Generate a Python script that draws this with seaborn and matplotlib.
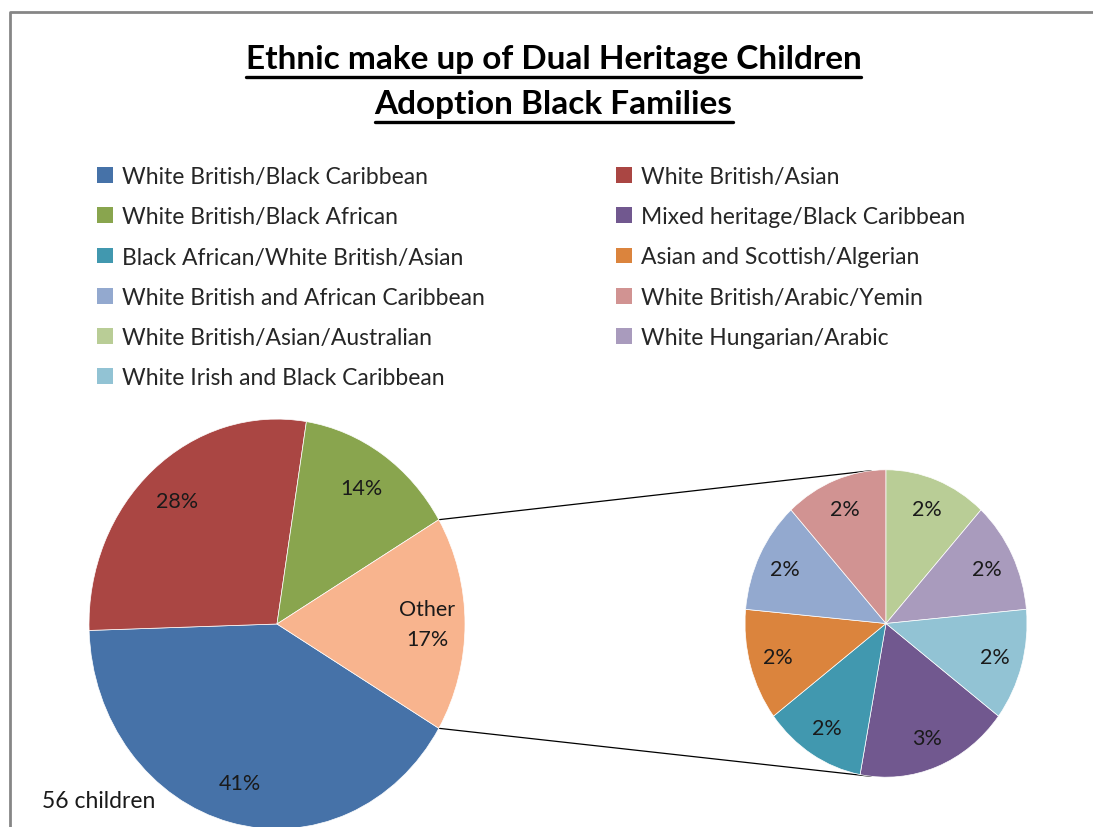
import matplotlib
matplotlib.use("Agg")
import matplotlib.pyplot as plt
import numpy as np
import seaborn as sns
from matplotlib.lines import Line2D
from matplotlib.patches import Patch

# chart data
title_lines = ["Ethnic make up of Dual Heritage Children", "Adoption Black Families"]
main_labels = ["White British/Black Caribbean", "White British/Asian", "White British/Black African"]
main_pct = [41, 28, 14]
main_colors = ["#4672A8", "#AA4643", "#89A54E"]
other_name = "Other"
other_color = "#F8B48E"
other_labels = [
    "Mixed heritage/Black Caribbean",
    "Black African/White British/Asian",
    "Asian and Scottish/Algerian",
    "White British and African Caribbean",
    "White British/Arabic/Yemin",
    "White British/Asian/Australian",
    "White Hungarian/Arabic",
    "White Irish and Black Caribbean",
]
other_pct = [3, 2, 2, 2, 2, 2, 2, 2]
other_colors = ["#71588F", "#4198AF", "#DB843D", "#93A9CF", "#D19392", "#B9CD96", "#A99BBD", "#92C3D4"]
note = "56 children"

sns.set_theme(style="white")
plt.rcParams["font.family"] = ["Lato", "DejaVu Sans"]

W, H = 1093, 828
stretch = 1.09  # the source picture is squashed a little horizontally
fig = plt.figure(figsize=(W / 100, H / 100), dpi=100)
ax = fig.add_axes([0, 0, 1, 1])


def to_data(px, py):
    return px, (H - py) / stretch


other_total = sum(other_pct)
wedge_style = dict(linewidth=0.5, edgecolor="white")
text_style = dict(fontsize=15.5, color="#1a1a1a")

main_center = to_data(277, 625)
main_r = 188
wedges_main, _, pct_main = ax.pie(
    main_pct + [other_total],
    colors=main_colors + [other_color],
    startangle=-30.6,
    counterclock=False,
    center=main_center,
    radius=main_r,
    autopct=lambda p: f"{p:.0f}%",
    pctdistance=0.8,
    wedgeprops=wedge_style,
    textprops=text_style,
)
pct_main[-1].set_text(other_name + "\n" + pct_main[-1].get_text())
pct_main[-1].set_linespacing(1.6)

sec_center = to_data(886, 624.5)
sec_r = 141
wedges_sec, _, pct_sec = ax.pie(
    other_pct,
    colors=other_colors,
    startangle=-37.06,
    counterclock=False,
    center=sec_center,
    radius=sec_r,
    autopct=lambda p: f"{p * other_total / 100:.0f}%",
    pctdistance=0.8,
    wedgeprops=wedge_style,
    textprops=text_style,
)

ax.set_xlim(0, W)
ax.set_ylim(0, H / stretch)
ax.set_aspect("auto")
ax.axis("off")

# connector lines from the "Other" slice to the second pie
ow = wedges_main[-1]
for a_main, a_sec in [(ow.theta2, 96), (ow.theta1, -96)]:
    p1 = main_center[0] + main_r * np.cos(np.radians(a_main)), main_center[1] + main_r * np.sin(np.radians(a_main))
    p2 = sec_center[0] + sec_r * np.cos(np.radians(a_sec)), sec_center[1] + sec_r * np.sin(np.radians(a_sec))
    ax.plot([p1[0], p2[0]], [p1[1], p2[1]], color="black", lw=0.9, zorder=0)

# legend, filled row by row like the original
names = main_labels + other_labels
cols = main_colors + other_colors
handles = [Patch(facecolor=c, edgecolor="none", label=n) for n, c in zip(names, cols)]
leg_kw = dict(loc="upper left", frameon=False, fontsize=16.5, handlelength=0.68, handleheight=0.68,
              handletextpad=0.4, labelspacing=0.84, borderaxespad=0, borderpad=0)
leg1 = fig.legend(handles=handles[0::2], bbox_to_anchor=(97 / W, 1 - 167 / H), **leg_kw)
leg2 = fig.legend(handles=handles[1::2], bbox_to_anchor=(616 / W, 1 - 167 / H), **leg_kw)

fig.text(42 / W, 1 - 808 / H, note, fontsize=16.5, va="baseline", ha="left", color="#1a1a1a")

# title with underline
titles = []
for line, y in zip(title_lines, [69, 114]):
    titles.append(fig.text(0.5 + 7 / W, 1 - y / H, line, fontsize=24, fontweight="bold",
                           ha="center", va="baseline", color="black"))
fig.canvas.draw()
renderer = fig.canvas.get_renderer()
for t in titles:
    bb = t.get_window_extent(renderer)
    yy = (bb.y0 - 4) / H
    fig.add_artist(Line2D([bb.x0 / W, bb.x1 / W], [yy, yy], color="black", lw=2.4))

# grey frame
fig.add_artist(Line2D([10 / W, 10 / W, 1], [0, 1 - 13 / H, 1 - 13 / H], color="#868686", lw=2))

fig.savefig("out.png", dpi=100)
